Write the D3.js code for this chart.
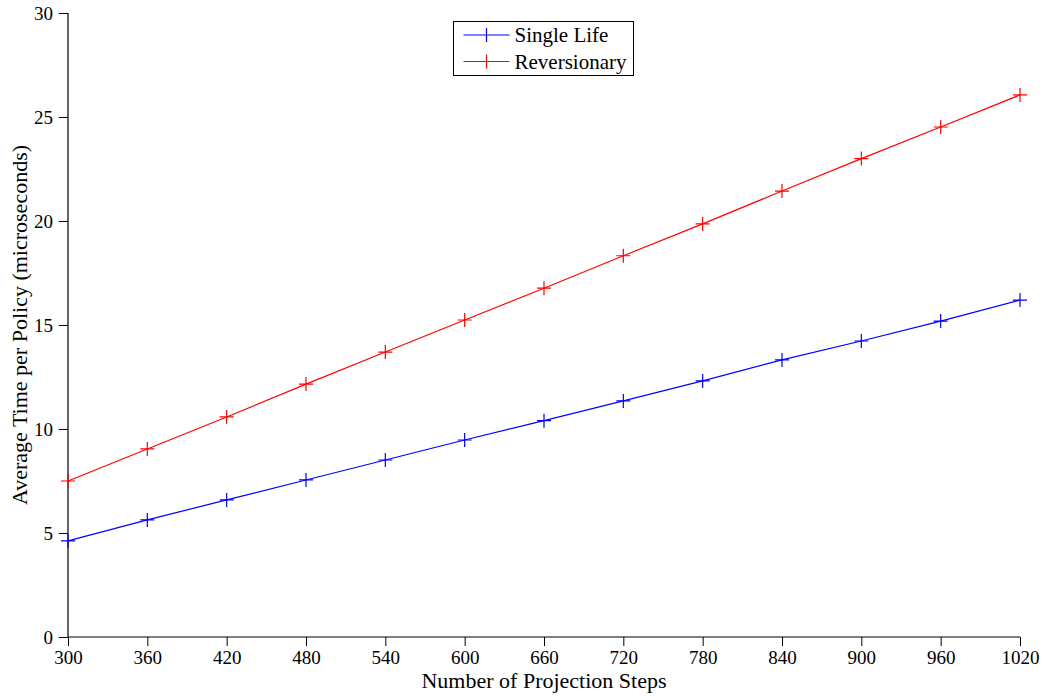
<!DOCTYPE html>
<html>
<head>
<meta charset="utf-8">
<script src="https://cdn.jsdelivr.net/npm/d3@7"></script>
<style>
  body { margin: 0; background: #fff; }
  text { font-family: "Liberation Serif", "DejaVu Serif", serif; }
</style>
</head>
<body>
<div id="chart"></div>
<script>
const steps = [300, 360, 420, 480, 540, 600, 660, 720, 780, 840, 900, 960, 1020];
const singleLife = [4.62, 5.63, 6.59, 7.55, 8.51, 9.47, 10.4, 11.35, 12.31, 13.32, 14.23, 15.19, 16.2];
const reversionary = [7.5, 9.04, 10.58, 12.16, 13.7, 15.24, 16.77, 18.33, 19.86, 21.44, 23.0, 24.52, 26.06];
const yTicks = [0, 5, 10, 15, 20, 25, 30];

const series = [
  { name: "Single Life", values: singleLife, color: "#0000ff" },
  { name: "Reversionary", values: reversionary, color: "#ff0000" }
];

const width = 1046, height = 697;
const margin = { top: 13, right: 26, bottom: 60, left: 68 };

const svg = d3.select("#chart")
  .append("svg")
  .attr("width", width)
  .attr("height", height);

const x = d3.scaleLinear()
  .domain([300, 1020])
  .range([margin.left, width - margin.right]);

const y = d3.scaleLinear()
  .domain([0, 30])
  .range([height - margin.bottom, margin.top]);

// axes
const xAxis = svg.append("g")
  .attr("transform", `translate(0,${height - margin.bottom})`)
  .call(d3.axisBottom(x).tickValues(steps).tickSize(9).tickPadding(5).tickFormat(d3.format("d")));

const yAxis = svg.append("g")
  .attr("transform", `translate(${margin.left},0)`)
  .call(d3.axisLeft(y).tickValues(yTicks).tickSize(9).tickPadding(6));

[xAxis, yAxis].forEach(g => {
  g.select(".domain").attr("stroke", "#000").attr("stroke-width", 1.2);
  g.selectAll(".tick line").attr("stroke", "#000");
  g.selectAll(".tick text")
    .attr("fill", "#000")
    .style("font-size", "19px")
    .style("font-family", "'Liberation Serif', serif");
});
// axis lines end at the data range
xAxis.select(".domain").attr("d", `M${x(300)},0H${x(1020)}`);
yAxis.select(".domain").attr("d", `M0,${y(0)}V${y(30)}`);

// lines
const line = d3.line()
  .x((d, i) => x(steps[i]))
  .y(d => y(d));

const plus = 7;

series.forEach(s => {
  svg.append("path")
    .datum(s.values)
    .attr("fill", "none")
    .attr("stroke", s.color)
    .attr("stroke-width", 1.2)
    .attr("d", line);

  svg.append("g")
    .selectAll("path")
    .data(s.values)
    .enter()
    .append("path")
    .attr("fill", "none")
    .attr("stroke", s.color)
    .attr("stroke-width", 1.2)
    .attr("d", (d, i) => {
      const cx = x(steps[i]), cy = y(d);
      return `M${cx - plus},${cy}H${cx + plus}M${cx},${cy - plus}V${cy + plus}`;
    });
});

// axis labels
svg.append("text")
  .attr("x", (margin.left + width - margin.right) / 2)
  .attr("y", 688)
  .attr("text-anchor", "middle")
  .style("font-size", "22px")
  .text("Number of Projection Steps");

svg.append("text")
  .attr("transform", `translate(27,${(margin.top + height - margin.bottom) / 2}) rotate(-90)`)
  .attr("text-anchor", "middle")
  .style("font-size", "22px")
  .text("Average Time per Policy (microseconds)");

// legend
const legend = svg.append("g").attr("transform", "translate(453.5,21.5)");
legend.append("rect")
  .attr("width", 180)
  .attr("height", 54)
  .attr("fill", "#fff")
  .attr("stroke", "#000")
  .attr("stroke-width", 1);

series.forEach((s, i) => {
  const ly = 13.5 + i * 26.5;
  legend.append("path")
    .attr("stroke", s.color)
    .attr("stroke-width", 1.2)
    .attr("fill", "none")
    .attr("d", `M10,${ly}H56M${33 - plus},${ly}H${33 + plus}M33,${ly - plus}V${ly + plus}`);
  legend.append("text")
    .attr("x", 61)
    .attr("y", ly + 7)
    .style("font-size", "21px")
    .text(s.name);
});
</script>
</body>
</html>
